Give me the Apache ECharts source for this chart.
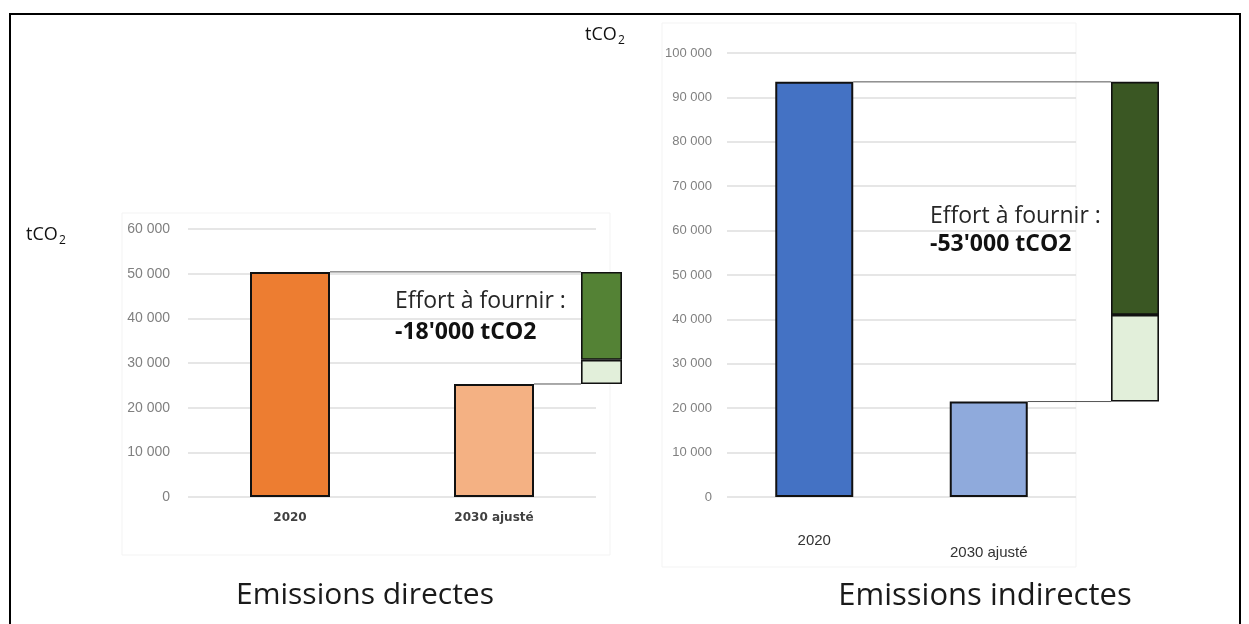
<!DOCTYPE html>
<html><head><meta charset="utf-8">
<script src="https://cdn.jsdelivr.net/npm/echarts@6/dist/echarts.min.js"></script>
<style>html,body{margin:0;padding:0;background:#fff}#c{width:1249px;height:624px}</style>
</head><body><div id="c"></div>
<script>
// ---- data ----
const categories = ['2020', '2030 ajusté'];
const directValues = [50400, 25300];
const directReduced = [5400];     // light green part of waterfall
const directEffort = [19700];     // dark green part of waterfall
const indirectValues = [93500, 21500];
const indirectReduced = [19500];
const indirectEffort = [52500];
const directAxis = { min: 0, max: 60000, interval: 10000 };
const indirectAxis = { min: 0, max: 100000, interval: 10000 };
const titles = ['Emissions directes', 'Emissions indirectes'];
const unitLabel = ['tCO', '2'];
const annotations = [["Effort à fournir :", "-18'000 tCO2"], ["Effort à fournir :", "-53'000 tCO2"]];

// ---- layout ----
const G = [
  { left: 188, top: 229, width: 408, height: 268 },   // direct main
  { left: 581, top: 229, width: 41, height: 268 },    // direct waterfall
  { left: 727, top: 53, width: 349, height: 444 },    // indirect main
  { left: 1111, top: 53, width: 48, height: 444 }     // indirect waterfall
];
const BARW = [80, 78];
const fmt = v => String(v).replace(/\B(?=(\d{3})+(?!\d))/g, ' ');

const chart = echarts.init(document.getElementById('c'), null, { renderer: 'canvas' });

function yAxis(grid, ax, show, size, margin) {
  return {
    type: 'value', gridIndex: grid, min: ax.min, max: ax.max, interval: ax.interval, show: show,
    axisLine: { show: false }, axisTick: { show: false },
    axisLabel: { show: show, formatter: fmt, color: '#808080', fontFamily: 'Liberation Sans', fontSize: size, margin: margin },
    splitLine: { show: show, lineStyle: { color: '#dedede', width: 1.5 } }
  };
}
function connector(gridIdx, values, barW, endX) {
  return {
    type: 'custom', xAxisIndex: gridIdx, yAxisIndex: gridIdx, clip: false, z: 1, silent: true,
    data: values.map((v, i) => [i, v]),
    renderItem: function (params, api) {
      const p = api.coord([api.value(0), api.value(1)]);
      return { type: 'line', shape: { x1: p[0] + barW / 2, y1: p[1], x2: endX, y2: p[1] },
        style: { stroke: '#555', lineWidth: 1 } };
    }
  };
}
function stack(gridIdx, base, light, dark, darkColor, name) {
  const common = { type: 'bar', xAxisIndex: gridIdx, yAxisIndex: gridIdx, stack: name, barWidth: '100%', z: 3 };
  return [
    Object.assign({}, common, { data: base, itemStyle: { color: 'transparent', borderWidth: 0 } }),
    Object.assign({}, common, { data: light, itemStyle: { color: '#E2EFDA', borderColor: '#111', borderWidth: 1.6 } }),
    Object.assign({}, common, { data: dark, itemStyle: { color: darkColor, borderColor: '#111', borderWidth: 1.6 } })
  ];
}

const option = {
  animation: false,
  backgroundColor: '#fff',
  grid: G.map(g => Object.assign({ containLabel: false }, g)),
  xAxis: [
    { type: 'category', gridIndex: 0, data: categories, axisLine: { show: false }, axisTick: { show: false },
      axisLabel: { color: '#404040', fontFamily: 'DejaVu Sans', fontWeight: 'bold', fontSize: 12, margin: 15 } },
    { type: 'category', gridIndex: 1, data: [''], show: false },
    { type: 'category', gridIndex: 2, data: categories, axisLine: { show: false }, axisTick: { show: false },
      axisLabel: { margin: 36,
        formatter: (v, i) => (i === 0 ? '{a|' + v + '}' : '{b|' + v + '}'),
        rich: { a: { color: '#333', fontFamily: 'Liberation Sans', fontSize: 15 },
                b: { color: '#333', fontFamily: 'Liberation Sans', fontSize: 15, padding: [12, 0, 0, 0] } } } },
    { type: 'category', gridIndex: 3, data: [''], show: false }
  ],
  yAxis: [
    yAxis(0, directAxis, true, 14, 18),
    yAxis(1, directAxis, false, 14, 0),
    yAxis(2, indirectAxis, true, 13, 15),
    yAxis(3, indirectAxis, false, 13, 0)
  ],
  series: [
    connector(0, directValues, BARW[0], G[1].left),
    { type: 'bar', xAxisIndex: 0, yAxisIndex: 0, barWidth: BARW[0], z: 3,
      data: directValues.map((v, i) => ({ value: v, itemStyle: { color: i === 0 ? '#ED7D31' : '#F4B183' } })),
      itemStyle: { borderColor: '#111', borderWidth: 2 } },
    ...stack(1, [directValues[1]], directReduced, directEffort, '#548235', 'd'),
    connector(2, indirectValues, BARW[1], G[3].left),
    { type: 'bar', xAxisIndex: 2, yAxisIndex: 2, barWidth: BARW[1], z: 3,
      data: indirectValues.map((v, i) => ({ value: v, itemStyle: { color: i === 0 ? '#4472C4' : '#8FAADC' } })),
      itemStyle: { borderColor: '#111', borderWidth: 2 } },
    ...stack(3, [indirectValues[1]], indirectReduced, indirectEffort, '#3A5723', 'i')
  ],
  graphic: [
    { type: 'rect', silent: true, z: -10, shape: { x: 10, y: 14, width: 1230, height: 640 }, style: { fill: 'none', stroke: '#000', lineWidth: 2 } },
    { type: 'rect', silent: true, z: -9, shape: { x: 122, y: 213, width: 488, height: 342 }, style: { fill: 'none', stroke: '#f3f3f3', lineWidth: 1 } },
    { type: 'rect', silent: true, z: -9, shape: { x: 662, y: 23, width: 414, height: 544 }, style: { fill: 'none', stroke: '#f3f3f3', lineWidth: 1 } },
    // unit labels
    { type: 'text', left: 26, top: 226, style: { text: unitLabel[0], font: '18px "Open Sans"', fill: '#111' } },
    { type: 'text', left: 59, top: 235, style: { text: unitLabel[1], font: '12px "Open Sans"', fill: '#111' } },
    { type: 'text', left: 585, top: 26, style: { text: unitLabel[0], font: '18px "Open Sans"', fill: '#111' } },
    { type: 'text', left: 618, top: 35, style: { text: unitLabel[1], font: '12px "Open Sans"', fill: '#111' } },
    // annotations
    { type: 'text', left: 395, top: 290, z: 10, style: { text: annotations[0][0], font: '23px "Open Sans"', fill: '#262626' } },
    { type: 'text', left: 395, top: 321, z: 10, style: { text: annotations[0][1], font: 'bold 23px "Open Sans"', fill: '#111' } },
    { type: 'text', left: 930, top: 205, z: 10, style: { text: annotations[1][0], font: '23px "Open Sans"', fill: '#262626' } },
    { type: 'text', left: 930, top: 233, z: 10, style: { text: annotations[1][1], font: 'bold 23px "Open Sans"', fill: '#111' } },
    // titles
    { type: 'text', x: 365, y: 595, style: { text: titles[0], font: '30px "Open Sans"', fill: '#1a1a1a', textAlign: 'center', textVerticalAlign: 'middle' } },
    { type: 'text', x: 985, y: 596, style: { text: titles[1], font: '31px "Open Sans"', fill: '#1a1a1a', textAlign: 'center', textVerticalAlign: 'middle' } }
  ]
};
chart.setOption(option);
</script>
</body></html>
